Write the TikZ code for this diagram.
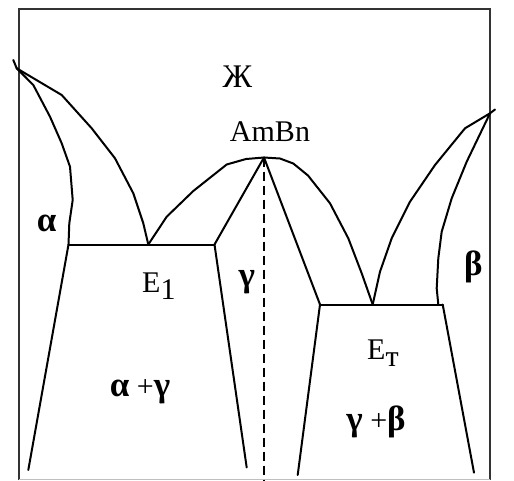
\documentclass[tikz,border=0pt]{standalone}
\usepackage{fontspec}
\setmainfont{Liberation Serif}
\newcommand{\grk}[1]{{\fontsize{35}{36}\selectfont\bfseries #1}}
\begin{document}
\begin{tikzpicture}[x=1pt,y=-1pt,
  curve/.style={line width=2pt, line join=round, line cap=round},
  frame/.style={line width=2pt, draw=black!80},
  lbl/.style={inner sep=0pt, anchor=base, font=\fontsize{30}{32}\selectfont},
  dashline/.style={line width=2pt, dash pattern=on 9pt off 5pt},
]
\useasboundingbox (0,0) rectangle (514,480);
% key points
\coordinate (A) at (16.7,68.3);
\coordinate (Atick) at (13.3,60);
\coordinate (B) at (490,113.3);
\coordinate (Btick) at (495,109.5);
\coordinate (E1) at (148.3,244.5);
\coordinate (ET) at (372.7,304.5);
\coordinate (M) at (264,157.5);
\coordinate (a1) at (68.5,244.5);
\coordinate (g1) at (214.5,244.5);
\coordinate (g2) at (320,304.5);
\coordinate (b2) at (442.7,304.5);
\coordinate (a1bot) at (28.3,470);
\coordinate (g1bot) at (246.7,467.5);
\coordinate (g2bot) at (297.7,475);
\coordinate (b2bot) at (474,472.7);
\coordinate (Mbot) at (264,480);
% frame
\draw[frame] (19,480) -- (19,9) -- (490,9) -- (490,480);
\draw[black!25, line width=1pt] (19,479) -- (490,479);
% left liquidus and solidus
\draw[curve] (Atick) -- (A);
\draw[curve] (A) -- (61.7,95) -- (91.7,128.3) -- (115,158.3) -- (133.3,193.3) -- (143.3,223.3) -- (E1);
\draw[curve] (A) -- (33.3,85) -- (50,116.7) -- (61.7,143.3) -- (70,166.7) -- (72.7,200) -- (69.3,223.3) -- (a1);
% central liquidus
\draw[curve] (E1) -- (166.7,216.7) -- (193.3,191) -- (226.7,164.5) -- (246,159) -- (M);
\draw[curve] (M) -- (280,158.5) -- (293.3,163.5) -- (308,175.5) -- (330,203.3) -- (348.3,238.3) -- (361.7,273.3) -- (ET);
% right liquidus and solidus
\draw[curve] (Btick) -- (B);
\draw[curve] (B) -- (465,128.3) -- (435,165) -- (410,201.7) -- (391.7,238.3) -- (380,271.7) -- (ET);
\draw[curve] (B) -- (466.7,161.7) -- (451.7,198.3) -- (441.7,231.7) -- (438.3,258.3) -- (436.7,288.3) -- (438.3,304.5);
% gamma phase
\draw[curve] (M) -- (g1);
\draw[curve] (M) -- (g2);
\draw[dashline] (M) -- (Mbot);
% eutectic lines
\draw[curve] (a1) -- (g1);
\draw[curve] (g2) -- (b2);
% lower boundaries
\draw[curve] (a1) -- (a1bot);
\draw[curve] (g1) -- (g1bot);
\draw[curve] (g2) -- (g2bot);
\draw[curve] (b2) -- (b2bot);
% labels
\node[lbl] (liq) at (237.5,87) {\fontsize{33}{34}\selectfont Ж};
\node[lbl] (amb) at (270,141.7) {AmBn};
\node[lbl] (alpha) at (46.7,231.7) {\grk{α}};
\node[lbl, anchor=base west] (e1) at (142,292) {E\raisebox{-7pt}{1}};
\node[lbl] (gam) at (246.7,286.7) {\grk{γ}};
\node[lbl] (bet) at (473.3,275) {\grk{β}};
\node[lbl, anchor=base west] (et) at (367,359) {E\raisebox{-7pt}{т}};
\node[lbl] (ag) at (140,396) {\grk{α} +\grk{γ}};
\node[lbl] (gb) at (376,430) {\grk{γ} +\grk{β}};
\end{tikzpicture}
\end{document}
